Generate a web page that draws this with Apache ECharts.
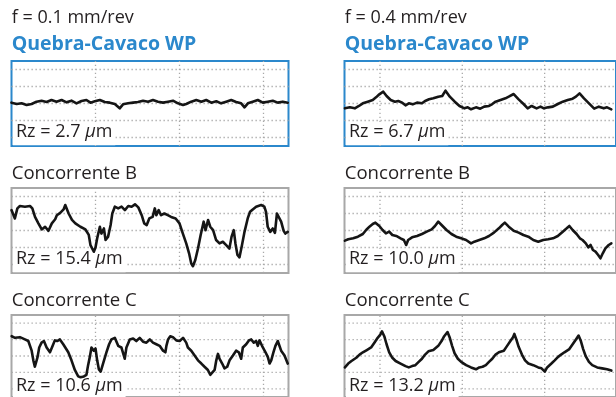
<!DOCTYPE html>
<html><head><meta charset="utf-8">
<script src="https://cdn.jsdelivr.net/npm/echarts@6/dist/echarts.min.js"></script>
<style>html,body{margin:0;padding:0;background:#fff}#c{width:616px;height:397px}</style>
</head><body><div id="c"></div>
<script>
// ---- data ----
const feedLabels = ['f = 0.1 mm/rev', 'f = 0.4 mm/rev'];
const toolNames = ['Quebra-Cavaco WP', 'Concorrente B', 'Concorrente C'];
const rzFeed01 = [2.7, 15.4, 10.6];
const rzFeed04 = [6.7, 10.0, 13.2];
const gridXmm = [0.5, 1.0, 1.5, 2.0];
const gridYum = [-10, -5, 0, 5, 10];

// profiles: [position mm, height µm]
const profileWP01 = [[0.00,0.25],[0.031,-0.15],[0.060,0.05],[0.090,-0.44],[0.120,-0.15],[0.149,0.54],[0.179,0.83],[0.209,0.44],[0.238,1.03],[0.268,0.54],[0.298,1.03],[0.328,0.34],[0.357,0.83],[0.387,0.05],[0.417,0.74],[0.446,1.03],[0.470,0.25],[0.496,0.64],[0.526,1.03],[0.555,0.44],[0.585,0.25],[0.615,-0.15],[0.644,-1.42],[0.664,-0.25],[0.694,0.05],[0.724,0.25],[0.753,0.44],[0.783,0.83],[0.813,0.54],[0.842,1.03],[0.872,0.54],[0.902,0.25],[0.932,0.54],[0.961,0.83],[0.991,0.05],[1.021,-0.44],[1.040,-0.15],[1.070,0.54],[1.100,1.03],[1.130,0.54],[1.159,1.03],[1.189,0.25],[1.219,0.64],[1.248,0.05],[1.278,0.54],[1.308,1.03],[1.337,0.44],[1.367,0.05],[1.387,-1.13],[1.407,0.05],[1.436,0.54],[1.466,1.03],[1.496,0.25],[1.526,0.54],[1.555,0.83],[1.585,0.25],[1.615,0.54],[1.644,0.25]];

const profileWP04 = [[0.287,-1.42],[0.317,-1.13],[0.347,-1.42],[0.372,-0.73],[0.396,0.05],[0.426,0.54],[0.456,1.03],[0.476,1.81],[0.496,2.70],[0.520,3.48],[0.540,2.21],[0.565,1.03],[0.591,0.54],[0.611,0.74],[0.635,0.25],[0.655,-0.54],[0.675,0.05],[0.699,-0.25],[0.725,0.25],[0.755,0.05],[0.774,0.74],[0.798,1.23],[0.824,1.52],[0.854,2.01],[0.878,2.21],[0.898,3.77],[0.924,2.01],[0.954,0.54],[0.983,-0.73],[1.013,-1.42],[1.033,-1.13],[1.053,-1.71],[1.083,-1.13],[1.109,-1.52],[1.133,-0.93],[1.162,-0.73],[1.182,-0.15],[1.202,0.54],[1.232,1.03],[1.262,1.52],[1.282,2.01],[1.312,2.79],[1.342,1.23],[1.372,-0.15],[1.397,-1.42],[1.421,-0.73],[1.451,-1.42],[1.475,-0.93],[1.495,-1.42],[1.521,-1.13],[1.550,-0.93],[1.580,-0.15],[1.610,0.54],[1.640,1.03],[1.670,1.42],[1.690,2.01],[1.712,2.99],[1.739,1.52],[1.769,0.05],[1.801,-1.52],[1.829,-0.93],[1.859,-1.42],[1.879,-1.13],[1.905,-1.71]];

const profileB01 = [[0.00,6.0],[0.02,3.55],[0.035,6.5],[0.05,7.2],[0.08,7.0],[0.11,7.2],[0.124,6.5],[0.14,4.0],[0.16,2.1],[0.18,0.3],[0.20,1.1],[0.22,-0.1],[0.24,2.1],[0.26,3.3],[0.27,4.5],[0.29,5.2],[0.31,6.2],[0.32,7.5],[0.34,5.0],[0.36,3.1],[0.38,2.1],[0.41,1.1],[0.44,0.3],[0.46,-1.3],[0.47,-4.3],[0.49,-6.25],[0.50,-5.0],[0.51,-2.3],[0.526,1.1],[0.535,-0.9],[0.55,0.6],[0.56,-2.8],[0.575,-1.8],[0.59,1.6],[0.60,5.0],[0.615,7.0],[0.635,6.5],[0.655,7.0],[0.675,6.0],[0.695,7.2],[0.715,7.0],[0.735,7.7],[0.755,6.8],[0.775,4.5],[0.79,2.1],[0.805,1.6],[0.82,3.55],[0.84,4.0],[0.853,6.5],[0.862,4.5],[0.876,6.0],[0.89,4.5],[0.91,5.0],[0.93,4.5],[0.95,4.0],[0.977,3.55],[1.00,2.1],[1.02,-0.9],[1.04,-3.8],[1.057,-6.7],[1.07,-9.7],[1.08,-10.5],[1.094,-8.7],[1.11,-5.3],[1.126,-1.3],[1.144,2.6],[1.155,0.1],[1.17,3.1],[1.183,1.1],[1.20,0.1],[1.218,-2.8],[1.238,-3.8],[1.258,-3.3],[1.278,-4.3],[1.297,-5.3],[1.31,-1.8],[1.323,0.1],[1.333,-3.8],[1.345,-7.2],[1.357,-7.9],[1.37,-4.8],[1.387,-0.4],[1.406,3.55],[1.42,5.5],[1.436,6.2],[1.456,7.0],[1.486,7.5],[1.505,7.0],[1.515,5.5],[1.525,1.1],[1.54,-0.4],[1.555,0.6],[1.568,-0.7],[1.58,5.0],[1.59,4.5],[1.605,2.6],[1.62,-0.1],[1.63,-0.9],[1.644,-0.4]];

const profileB04 = [[0.287,-2.99],[0.307,-2.59],[0.337,-2.30],[0.366,-1.81],[0.396,-1.03],[0.416,0.15],[0.436,1.13],[0.456,1.91],[0.472,2.31],[0.496,1.33],[0.516,0.15],[0.536,-0.83],[0.556,-0.34],[0.575,-1.32],[0.599,-1.61],[0.625,-2.30],[0.645,-2.79],[0.659,-4.26],[0.671,-2.79],[0.695,-2.01],[0.725,-1.61],[0.755,-1.03],[0.784,-0.34],[0.814,0.35],[0.834,1.33],[0.854,2.60],[0.874,1.62],[0.904,0.15],[0.934,-1.03],[0.963,-1.81],[0.993,-2.30],[1.023,-2.79],[1.053,-3.77],[1.073,-3.28],[1.103,-2.79],[1.133,-2.30],[1.162,-1.61],[1.192,-0.63],[1.222,0.64],[1.242,1.62],[1.258,2.31],[1.282,1.13],[1.312,-0.05],[1.342,-0.63],[1.371,-1.32],[1.401,-1.81],[1.431,-2.79],[1.461,-3.28],[1.491,-2.79],[1.521,-2.59],[1.551,-2.30],[1.580,-1.61],[1.610,-0.34],[1.634,0.64],[1.650,1.33],[1.670,0.15],[1.694,-1.03],[1.714,-2.30],[1.730,-2.79],[1.750,-3.77],[1.765,-4.95],[1.779,-4.26],[1.793,-5.73],[1.809,-6.22],[1.825,-7.20],[1.839,-8.18],[1.853,-6.71],[1.869,-5.24],[1.889,-4.26],[1.905,-3.77]];

const profileC01 = [[0.001,6.03],[0.021,5.54],[0.050,5.74],[0.080,5.05],[0.100,4.56],[0.120,1.62],[0.130,-1.32],[0.139,-3.28],[0.145,-3.48],[0.155,-0.34],[0.165,2.6],[0.179,4.07],[0.193,4.56],[0.209,2.6],[0.229,1.13],[0.245,3.09],[0.258,4.76],[0.272,4.56],[0.288,5.05],[0.308,3.58],[0.338,1.13],[0.357,-1.32],[0.377,-4.26],[0.397,-6.22],[0.411,-6.5],[0.431,-6.22],[0.446,-5.73],[0.456,-2.79],[0.466,-0.34],[0.476,2.6],[0.490,1.62],[0.500,2.3],[0.510,-1.32],[0.520,-4.06],[0.531,-4.75],[0.545,-2.3],[0.565,1.13],[0.581,3.58],[0.595,5.05],[0.615,5.54],[0.635,3.09],[0.654,2.6],[0.674,-0.83],[0.684,2.6],[0.704,5.05],[0.724,5.34],[0.743,4.56],[0.763,5.54],[0.783,4.36],[0.803,4.07],[0.823,5.05],[0.842,4.07],[0.862,3.58],[0.882,3.09],[0.902,1.62],[0.916,1.13],[0.922,3.09],[0.932,5.05],[0.945,6.03],[0.961,5.74],[0.981,4.76],[1.001,4.56],[1.021,5.54],[1.040,4.07],[1.050,2.6],[1.070,1.62],[1.090,0.15],[1.110,-1.32],[1.130,-2.3],[1.149,-3.28],[1.169,-4.26],[1.183,-5.73],[1.193,-6.22],[1.209,-4.26],[1.219,-1.32],[1.229,0.64],[1.238,-0.83],[1.254,-2.3],[1.268,-3.77],[1.284,-3.28],[1.298,-1.32],[1.318,0.15],[1.337,1.62],[1.353,1.13],[1.367,-0.83],[1.377,2.6],[1.397,3.58],[1.413,4.76],[1.427,5.05],[1.442,4.07],[1.456,4.56],[1.466,3.09],[1.476,4.76],[1.496,2.6],[1.512,1.13],[1.526,-0.34],[1.536,-2.3],[1.546,-1.32],[1.559,1.13],[1.571,3.09],[1.585,4.56],[1.595,4.07],[1.605,1.62],[1.625,0.15],[1.644,-2.3]];

const profileC04 = [[0.287,-3.48],[0.307,-2.30],[0.327,-1.52],[0.356,-0.54],[0.376,0.44],[0.396,1.13],[0.420,1.82],[0.446,2.60],[0.466,4.07],[0.486,5.54],[0.502,6.52],[0.512,7.50],[0.526,6.03],[0.540,3.58],[0.556,1.13],[0.575,-0.54],[0.595,-1.52],[0.625,-2.30],[0.655,-3.08],[0.675,-3.48],[0.695,-3.08],[0.715,-2.79],[0.735,-1.81],[0.755,-0.83],[0.774,0.44],[0.794,1.42],[0.824,1.82],[0.854,3.09],[0.874,4.56],[0.890,6.03],[0.910,7.30],[0.924,5.54],[0.938,3.09],[0.953,0.84],[0.973,-0.83],[0.993,-1.81],[1.023,-2.79],[1.053,-3.48],[1.083,-4.06],[1.103,-3.48],[1.123,-3.28],[1.143,-2.79],[1.162,-1.81],[1.182,-0.83],[1.202,0.44],[1.222,1.13],[1.252,1.62],[1.272,3.09],[1.292,4.56],[1.308,5.74],[1.316,6.72],[1.328,5.05],[1.342,2.80],[1.362,0.44],[1.381,-1.32],[1.401,-2.30],[1.431,-2.79],[1.461,-3.48],[1.481,-3.77],[1.501,-4.75],[1.515,-3.48],[1.541,-2.30],[1.561,-1.32],[1.580,-0.34],[1.600,0.44],[1.620,1.13],[1.650,2.11],[1.670,3.58],[1.690,5.05],[1.706,6.23],[1.720,4.56],[1.734,2.11],[1.750,-0.14],[1.769,-1.81],[1.789,-2.79],[1.819,-3.48],[1.849,-3.77],[1.879,-4.06],[1.905,-4.45]];

const profiles = [[profileWP01, profileWP04],[profileB01, profileB04],[profileC01, profileC04]];
const rzValues = [rzFeed01, rzFeed04];

// ---- layout ----
const colLeft = [11.5, 344.5];
const panelW = 277, panelH = 85;
const rowTop = [61, 188, 315];
const pxPerMm = 168;
const colXMin = [0, 0.2845];
const yMinUm = -12.5, yMaxUm = 12.5;
const BLUE = '#2b88cc', GREY = '#a8a8a8', INK = '#231f20';
const FONT = '"Open Sans", "Noto Sans", sans-serif';

const grids = [], xAxes = [], yAxes = [], series = [], graphics = [];
let gi = 0;
for (let r = 0; r < 3; r++) {
  for (let c = 0; c < 2; c++) {
    grids.push({left: colLeft[c], top: rowTop[r], width: panelW, height: panelH, show: true,
      borderColor: r === 0 ? BLUE : GREY, borderWidth: 2, backgroundColor: 'transparent', containLabel: false});
    xAxes.push({type: 'value', gridIndex: gi, min: colXMin[c], max: colXMin[c] + panelW / pxPerMm,
      show: false, splitLine: {show: false}});
    yAxes.push({type: 'value', gridIndex: gi, min: yMinUm, max: yMaxUm, show: false, splitLine: {show: false}});
    const dotted = {color: '#a9a9a9', width: 1.3, type: [1.3, 2.7]};
    gridXmm.forEach(v => series.push({type: 'line', xAxisIndex: gi, yAxisIndex: gi, z: 1, silent: true,
      symbol: 'none', lineStyle: dotted, data: [[v, yMinUm], [v, yMaxUm]], animation: false}));
    gridYum.forEach(v => series.push({type: 'line', xAxisIndex: gi, yAxisIndex: gi, z: 1, silent: true,
      symbol: 'none', lineStyle: dotted, data: [[colXMin[c], v], [colXMin[c] + panelW / pxPerMm, v]], animation: false}));
    series.push({type: 'line', xAxisIndex: gi, yAxisIndex: gi, z: 3, silent: true, symbol: 'none',
      lineStyle: {color: '#151515', width: 2.6, join: 'round', cap: 'round'}, data: profiles[r][c], animation: false});
    const rz = rzValues[c][r].toFixed(1);
    graphics.push({type: 'text', z: 2, x: colLeft[c] + 1.5, y: rowTop[r] + 62.3,
      style: {text: '{a|Rz = ' + rz + ' }{u|µ}{a|m}', backgroundColor: '#fff', padding: [1, 3, 5, 3],
        verticalAlign: 'top',
        rich: {a: {fontFamily: FONT, fontSize: 18, lineHeight: 16, fill: INK, color: INK},
               u: {fontFamily: FONT, fontSize: 18, lineHeight: 16, fontStyle: 'italic', fill: INK, color: INK}}}});
    gi++;
  }
}
for (let c = 0; c < 2; c++) {
  graphics.push({type: 'text', z: 5, x: colLeft[c] + 0.2, y: 9,
    style: {text: feedLabels[c], font: '18px ' + FONT, fill: INK, verticalAlign: 'top', lineHeight: 18}});
  graphics.push({type: 'text', z: 5, x: colLeft[c] + 0.2, y: 34.5,
    style: {text: toolNames[0], font: 'bold 19.5px ' + FONT, fill: BLUE, verticalAlign: 'top', lineHeight: 19.5}});
  for (let r = 1; r < 3; r++) {
    graphics.push({type: 'text', z: 5, x: colLeft[c] + 0.2, y: rowTop[r] - 23.6,
      style: {text: toolNames[r], font: '18.6px ' + FONT, fill: INK, verticalAlign: 'top', lineHeight: 18.6}});
  }
}

const chart = echarts.init(document.getElementById('c'), null, {renderer: 'canvas'});
chart.setOption({
  backgroundColor: '#fff',
  animation: false,
  grid: grids, xAxis: xAxes, yAxis: yAxes, series: series, graphic: graphics
});
</script></body></html>
